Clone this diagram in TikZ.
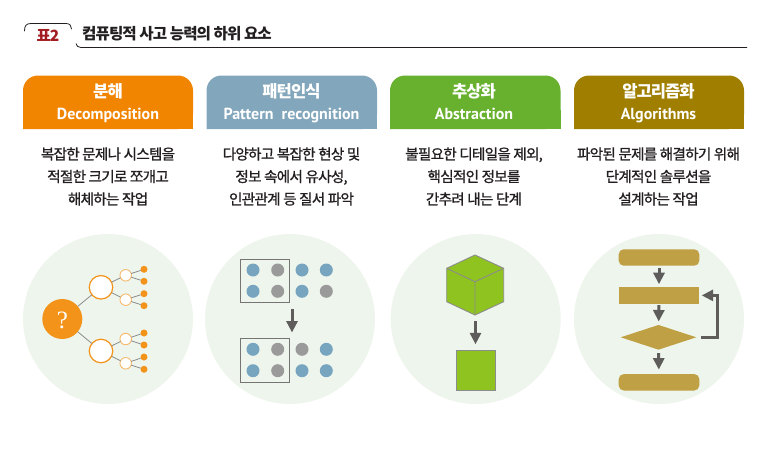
\documentclass[tikz,border=0pt]{standalone}
\usepackage{fontspec}
\usetikzlibrary{arrows.meta,shapes.geometric,calc}
\setmainfont{Noto Sans CJK KR}
\newfontfamily\krf[LetterSpace=-5,FakeBold=1]{Noto Sans CJK KR}
\newfontfamily\krh[LetterSpace=-6]{Noto Sans CJK KR}
\newfontfamily\enf{PT Sans}
\newfontfamily\qf{Liberation Serif}
\definecolor{cOrange}{HTML}{F28500}
\definecolor{cBlue}{HTML}{82A6BB}
\definecolor{cGreen}{HTML}{68B12F}
\definecolor{cOlive}{HTML}{A07F00}
\definecolor{cBack}{HTML}{EEF5EC}
\definecolor{cDotO}{HTML}{F39319}
\definecolor{cDotB}{HTML}{77A5BF}
\definecolor{cDotG}{HTML}{9A9A9A}
\definecolor{cCube}{HTML}{8FC31F}
\definecolor{cEdge}{HTML}{8C8C8C}
\definecolor{cArrow}{HTML}{5F5C5C}
\definecolor{cFlow}{HTML}{BFA044}
\definecolor{cRed}{HTML}{A01C20}
\definecolor{cInk}{HTML}{231F20}
\tikzset{
  backdisc/.style={circle,fill=cBack,minimum size=170pt,inner sep=0pt,outer sep=0pt},
  headko/.style={anchor=base,text=white,font=\krh\bfseries\fontsize{16.6}{18}\selectfont,inner sep=0pt},
  headen/.style={anchor=base,text=white,font=\enf\bfseries\fontsize{16}{16}\selectfont,inner sep=0pt},
  bodytext/.style={text=cInk,align=center,inner sep=0pt,font=\krf\fontsize{14.6}{22.5}\selectfont},
  qnode/.style={circle,fill=cDotO,minimum size=40pt,inner sep=0pt,outer sep=0pt},
  midnode/.style={circle,fill=white,draw=cDotO,line width=1.2pt,minimum size=23.5pt,inner sep=0pt,outer sep=0pt},
  smallnode/.style={circle,fill=white,draw=cDotO!65,line width=0.9pt,minimum size=11.5pt,inner sep=0pt,outer sep=0pt},
  leafnode/.style={circle,fill=cDotO,minimum size=7pt,inner sep=0pt,outer sep=0pt},
  treeline/.style={draw=cEdge,line width=0.8pt},
  bdot/.style={circle,fill=cDotB,minimum size=13pt,inner sep=0pt},
  gdot/.style={circle,fill=cDotG,minimum size=13pt,inner sep=0pt},
  framebox/.style={draw=cArrow!85,line width=1pt,inner sep=0pt,outer sep=0pt},
  heavyarrow/.style={draw=cArrow,line width=3pt,-{Triangle[width=11pt,length=11.5pt]}},
  flowbar/.style={fill=cFlow,minimum width=80.6pt,minimum height=16.4pt,inner sep=0pt,outer sep=0pt},
  flowround/.style={flowbar,rounded corners=5pt},
  flowdiamond/.style={diamond,fill=cFlow,aspect=3.06,minimum width=75.6pt,minimum height=24.7pt,inner sep=0pt,outer sep=0pt},
}
\begin{document}
\begin{tikzpicture}[x=1pt,y=-1pt]
\useasboundingbox (0,0) rectangle (770,455);
% title
\draw[cInk,line width=0.8pt,line cap=round] (24.5,31) .. controls (24.5,26) and (26,23.5) .. (31,23.5) -- (66,23.5) .. controls (70,23.5) and (71.5,26) .. (71.5,29);
\draw[cInk,line width=0.8pt] (76,43.5) .. controls (76.5,46) and (78,47.5) .. (81,47.5) -- (747,47.5);
\node[text=cRed,inner sep=0pt,font=\krh\bfseries\fontsize{15.5}{16}\selectfont] (badge) at (48,35) {표2};
\node[anchor=west,text=cInk,inner sep=0pt,font=\krh\bfseries\fontsize{15.6}{17}\selectfont] (title) at (82,34) {컴퓨팅적 사고 능력의 하위 요소};
% headers
\fill[cOrange,rounded corners=15pt] (23,129) |- (193,75.5) -- (193,129) [sharp corners] -- cycle;
\fill[cBlue,rounded corners=15pt] (206.5,129) |- (377,75.5) -- (377,129) [sharp corners] -- cycle;
\fill[cGreen,rounded corners=15pt] (390,129) |- (560.5,75.5) -- (560.5,129) [sharp corners] -- cycle;
\fill[cOlive,rounded corners=15pt] (574,129) |- (744,75.5) -- (744,129) [sharp corners] -- cycle;
\fill[cOrange] (23,110) rectangle (193,129);
\fill[cBlue] (206.5,110) rectangle (377,129);
\fill[cGreen] (390,110) rectangle (560.5,129);
\fill[cOlive] (574,110) rectangle (744,129);
\node[headko] (h1) at (108,97) {분해};
\node[headen] (e1) at (108,119.5) {Decomposition};
\node[headko] (h2) at (291.5,97) {패턴인식};
\node[headen] (e2) at (291.5,119.5) {Pattern\ \ recognition};
\node[headko] (h3) at (474,97) {추상화};
\node[headen] (e3) at (474,119.5) {Abstraction};
\node[headko] (h4) at (658.5,97) {알고리즘화};
\node[headen] (e4) at (658.5,119.5) {Algorithms};
% body text
\node[bodytext] (t1) at (108,176.5) {복잡한 문제나 시스템을\\적절한 크기로 쪼개고\\해체하는 작업};
\node[bodytext] (t2) at (291.5,176.5) {다양하고 복잡한 현상 및\\정보 속에서 유사성,\\인관관계 등 질서 파악};
\node[bodytext] (t3) at (474,176.5) {불필요한 디테일을 제외,\\핵심적인 정보를\\간추려 내는 단계};
\node[bodytext] (t4) at (658.5,176.5) {파악된 문제를 해결하기 위해\\단계적인 솔루션을\\설계하는 작업};
% discs
\node[backdisc] (d1) at (108,319) {};
\node[backdisc] (d2) at (290,319) {};
\node[backdisc] (d3) at (475.7,319) {};
\node[backdisc] (d4) at (659,319) {};
% tree
\node[qnode] (q) at (62.3,319) {};
\node[text=white,inner sep=0pt,font=\qf\fontsize{25}{26}\selectfont] (qm) at (62.3,320) {?};
\node[midnode] (m1) at (101,287.3) {};
\node[midnode] (m2) at (101,351) {};
\node[smallnode] (s1) at (125.7,275.3) {};
\node[smallnode] (s2) at (125.7,299.7) {};
\node[smallnode] (s3) at (125.7,339) {};
\node[smallnode] (s4) at (125.7,363.3) {};
\node[leafnode] (l1) at (144,269.3) {};
\node[leafnode] (l2) at (144,281.3) {};
\node[leafnode] (l3) at (144,293.7) {};
\node[leafnode] (l4) at (144,305.7) {};
\node[leafnode] (l5) at (144,333) {};
\node[leafnode] (l6) at (144,345) {};
\node[leafnode] (l7) at (144,357) {};
\node[leafnode] (l8) at (144,369.3) {};
\draw[treeline] (q) -- (m1);
\draw[treeline] (q) -- (m2);
\draw[treeline] (m1) -- (s1);
\draw[treeline] (m1) -- (s2);
\draw[treeline] (m2) -- (s3);
\draw[treeline] (m2) -- (s4);
\draw[treeline] (s1) -- (l1);
\draw[treeline] (s1) -- (l2);
\draw[treeline] (s2) -- (l3);
\draw[treeline] (s2) -- (l4);
\draw[treeline] (s3) -- (l5);
\draw[treeline] (s3) -- (l6);
\draw[treeline] (s4) -- (l7);
\draw[treeline] (s4) -- (l8);
% pattern
\node[framebox,minimum width=48.3pt,minimum height=42.3pt] (b1) at (264.85,280.85) {};
\node[framebox,minimum width=48.3pt,minimum height=43.6pt] (b2) at (264.85,360.5) {};
\node[bdot] (p11) at (253,270) {};
\node[gdot] (p12) at (277.7,270) {};
\node[bdot] (p13) at (302,270) {};
\node[bdot] (p14) at (326.3,270) {};
\node[bdot] (p21) at (253,291.3) {};
\node[gdot] (p22) at (277.7,291.3) {};
\node[bdot] (p23) at (302,291.3) {};
\node[gdot] (p24) at (326.3,291.3) {};
\node[bdot] (p31) at (253,349.3) {};
\node[gdot] (p32) at (277.7,349.3) {};
\node[gdot] (p33) at (302,349.3) {};
\node[bdot] (p34) at (326.3,349.3) {};
\node[bdot] (p41) at (253,370.7) {};
\node[gdot] (p42) at (277.7,370.7) {};
\node[bdot] (p43) at (302,370.7) {};
\node[bdot] (p44) at (326.3,370.7) {};
\coordinate (pa) at (292,309);
\coordinate (pb) at (292,332.5);
\draw[heavyarrow] (pa) -- (pb);
% cube
\fill[cCube] (475,255) -- (503.7,268.3) -- (503.7,301.7) -- (475,315) -- (446.7,301.7) -- (446.7,268.3) -- cycle;
\draw[cEdge,line width=0.9pt,line join=round] (475,255) -- (503.7,268.3) -- (503.7,301.7) -- (475,315) -- (446.7,301.7) -- (446.7,268.3) -- cycle;
\draw[cEdge,line width=0.9pt,line join=round] (446.7,268.3) -- (475,281.7) -- (503.7,268.3) (475,281.7) -- (475,315);
\node[fill=cCube,draw=cEdge,line width=0.9pt,minimum width=39.3pt,minimum height=40.4pt,inner sep=0pt,outer sep=0pt] (sq) at (475.65,370.5) {};
\coordinate (cubeb) at (475.5,315);
\draw[heavyarrow,shorten <=6pt,shorten >=6pt] (cubeb) -- (sq.north -| cubeb);
% flow
\node[flowround] (f1) at (659,257.5) {};
\node[flowbar] (f2) at (659,295.4) {};
\node[flowdiamond] (f3) at (658.5,337.3) {};
\node[flowround] (f4) at (659,382.3) {};
\draw[heavyarrow,shorten <=2pt,shorten >=3pt] (f1) -- (f2);
\draw[heavyarrow,shorten <=1.5pt,shorten >=3.5pt] (f2) -- (f3);
\draw[heavyarrow,shorten <=3.5pt,shorten >=4.5pt] (f3) -- (f4);
\coordinate (fr) at (717.7,337.3);
\draw[heavyarrow,shorten <=4.7pt,shorten >=2.4pt] (f3.east) -- (fr) |- (f2.east);
\end{tikzpicture}
\end{document}
